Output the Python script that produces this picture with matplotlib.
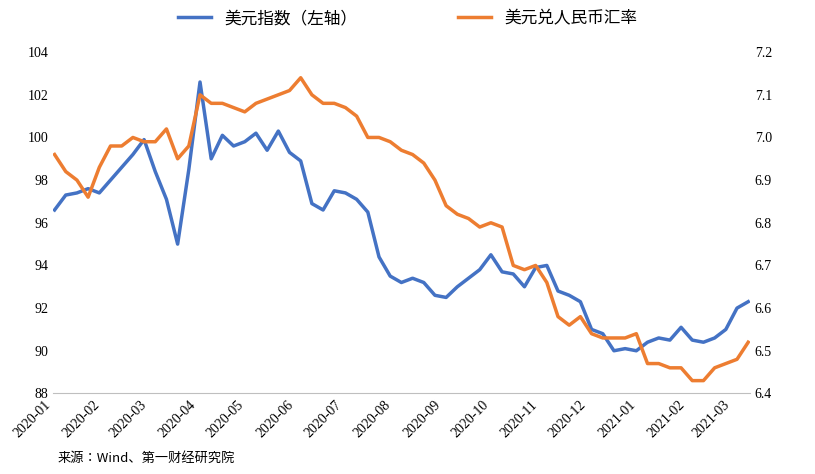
import pandas as pd
import matplotlib.pyplot as plt
import matplotlib.dates as mdates
from matplotlib import font_manager

cjk_path = None
for f in font_manager.findSystemFonts():
    if 'NotoSansCJK' in f.replace(' ', '') or 'NotoSansSC' in f:
        cjk_path = f
        if 'Regular' in f:
            break
cjk_bold = font_manager.FontProperties(fname=cjk_path, size=12, weight='bold') if cjk_path else font_manager.FontProperties(family='Noto Sans CJK SC', size=12)
cjk_small = font_manager.FontProperties(fname=cjk_path, size=9.5) if cjk_path else font_manager.FontProperties(family='Noto Sans CJK SC', size=9.5)

plt.rcParams['font.family'] = 'Liberation Serif'

# weekly readings, 2020-01-02 .. 2021-03-11
dxy = [96.6, 97.3, 97.4, 97.6, 97.4,
       98.0, 98.6, 99.2, 99.9, 98.4,
       97.1, 95.0, 98.5, 102.6, 99.0,
       100.1, 99.6, 99.8, 100.2,
       99.4, 100.3, 99.3, 98.9,
       96.9, 96.6, 97.5, 97.4,
       97.1, 96.5, 94.4, 93.5,
       93.2, 93.4, 93.2, 92.6,
       92.5, 93.0, 93.4, 93.8, 94.5,
       93.7, 93.6, 93.0, 93.9,
       94.0, 92.8, 92.6, 92.3,
       91.0, 90.8, 90.0, 90.1,
       90.0, 90.4, 90.6, 90.5,
       91.1, 90.5, 90.4, 90.6,
       91.0, 92.0, 92.3]
usdcny = [6.96, 6.92, 6.90, 6.86, 6.93,
          6.98, 6.98, 7.00, 6.99, 6.99,
          7.02, 6.95, 6.98, 7.10, 7.08,
          7.08, 7.07, 7.06, 7.08,
          7.09, 7.10, 7.11, 7.14,
          7.10, 7.08, 7.08, 7.07,
          7.05, 7.00, 7.00, 6.99,
          6.97, 6.96, 6.94, 6.90,
          6.84, 6.82, 6.81, 6.79, 6.80,
          6.79, 6.70, 6.69, 6.70,
          6.66, 6.58, 6.56, 6.58,
          6.54, 6.53, 6.53, 6.53,
          6.54, 6.47, 6.47, 6.46,
          6.46, 6.43, 6.43, 6.46,
          6.47, 6.48, 6.52]
dates = pd.date_range('2020-01-02', periods=len(dxy), freq='7D')

fig, ax = plt.subplots(figsize=(8.15, 4.74), dpi=100)
fig.subplots_adjust(left=0.065, right=0.92, top=0.89, bottom=0.17)
ax2 = ax.twinx()
l1, = ax.plot(dates, dxy, color='#4472C4', lw=2.5, label='美元指数（左轴）')
l2, = ax2.plot(dates, usdcny, color='#ED7D31', lw=2.5, label='美元兑人民币汇率')
ax.set_ylim(88, 104)
ax.set_yticks(range(88, 105, 2))
ax2.set_ylim(6.4, 7.2)
ax2.set_yticks([6.4, 6.5, 6.6, 6.7, 6.8, 6.9, 7.0, 7.1, 7.2])
ax.set_xlim(pd.Timestamp('2020-01-01'), pd.Timestamp('2021-03-12'))
ax.xaxis.set_major_locator(mdates.MonthLocator())
ax.xaxis.set_major_formatter(mdates.DateFormatter('%Y-%m'))
for lab in ax.get_xticklabels():
    lab.set_rotation(45)
    lab.set_ha('right')
for a in (ax, ax2):
    for s in ['top', 'left', 'right']:
        a.spines[s].set_visible(False)
    a.tick_params(length=0, labelsize=10)
ax.spines['bottom'].set_color('#bfbfbf')
ax2.spines['bottom'].set_visible(False)
fig.legend(handles=[l1, l2], loc='upper center', ncol=2, frameon=False,
           bbox_to_anchor=(0.5, 1.01), columnspacing=6, prop=cjk_bold)
fig.text(0.07, 0.025, '来源：Wind、第一财经研究院', fontproperties=cjk_small)
fig.savefig('out.png')
